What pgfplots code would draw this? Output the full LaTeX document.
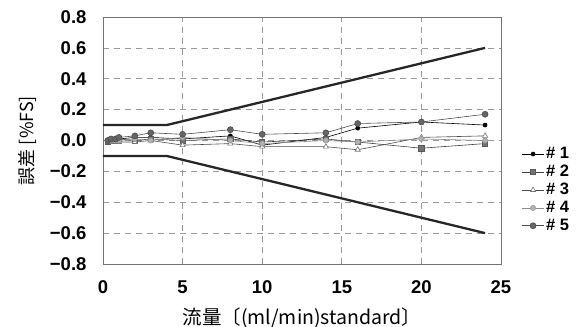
\documentclass[border=0pt]{standalone}
\usepackage{fontspec}
\setmainfont{Liberation Sans}
\newfontfamily\cjk{Noto Sans CJK JP}
\usepackage{pgfplots}
\pgfplotsset{compat=1.18}
\definecolor{axgray}{gray}{0.45}
\definecolor{gridgray}{gray}{0.6}
\begin{document}
\begin{tikzpicture}
\path[use as bounding box] (-103pt,-63pt) rectangle (476pt,264pt);
\begin{axis}[
  at={(0,0)}, anchor=south west,
  scale only axis, width=398pt, height=247pt,
  xmin=0, xmax=25, ymin=-0.8, ymax=0.8,
  xtick={0,5,10,15,20,25},
  ytick={-0.8,-0.6,-0.4,-0.2,0,0.2,0.4,0.6,0.8},
  yticklabels={−0.8,−0.6,−0.4,−0.2,0.0,0.2,0.4,0.6,0.8},
  xticklabels={0,5,10,15,20,25},
  major tick length=0pt,
  axis line style={axgray, line width=0.9pt},
  grid=major,
  major grid style={gridgray, dashed, dash pattern=on 6pt off 5pt, line width=0.6pt},
  tick label style={font=\bfseries\fontsize{18.5}{18.5}\selectfont},
  yticklabel style={xshift=-13pt},
  xticklabel style={yshift=-13pt},
  xlabel={\cjk\fontsize{19.5}{19.5}\selectfont 流量〔(ml/min)standard〕},
  ylabel={\cjk\fontsize{18}{18}\selectfont 誤差 [\%FS]},
  xlabel style={at={(0.5,-0.219)}, anchor=center},
  ylabel style={at={(-0.19,0.5)}, anchor=center},
  legend style={draw=none, fill=none, at={(1.045,0.30)}, anchor=west,
    font=\bfseries\fontsize{16.5}{16.5}\selectfont, row sep=1pt,
    legend cell align=left},
  legend image code/.code={\draw[#1, line width=0.6pt] (0cm,0cm) -- (0.75cm,0cm); \draw[#1,only marks] plot coordinates {(0.375cm,0cm)};},
  clip=false,
]
% series
\addplot[black, line width=0.6pt, mark=*, mark size=2pt] coordinates {
 (0.3,0.0) (0.5,0.0) (0.8,0.01) (1,0.01) (2,0.02) (3,0.02) (5,0.01) (8,0.03) (10,-0.03) (14,0.02) (16,0.08) (20,0.12) (24,0.10)};
\addlegendentry{\# 1}
\addplot[black!75, line width=0.6pt, mark=square*, mark size=2.6pt, mark options={fill=black!55, draw=black!65}] coordinates {
 (0.3,-0.01) (0.5,0.0) (0.8,0.0) (1,0.01) (2,0.0) (3,0.01) (5,0.0) (8,0.01) (10,-0.01) (14,0.01) (16,-0.01) (20,-0.05) (24,-0.02)};
\addlegendentry{\# 2}
\addplot[black!70, line width=0.6pt, mark=triangle*, mark size=3pt, mark options={fill=white, draw=black!55}] coordinates {
 (0.3,-0.01) (0.5,-0.01) (0.8,-0.01) (1,-0.01) (2,-0.01) (3,0.0) (5,-0.03) (8,-0.02) (10,-0.04) (14,-0.04) (16,-0.06) (20,0.02) (24,0.03)};
\addlegendentry{\# 3}
\addplot[black!45, line width=0.6pt, mark=*, mark size=2.6pt, mark options={fill=black!30, draw=black!40}] coordinates {
 (0.3,0.0) (0.5,0.0) (0.8,0.0) (1,0.0) (2,0.01) (3,0.0) (5,0.02) (8,0.0) (10,-0.02) (14,0.0) (16,-0.01) (20,0.01) (24,0.0)};
\addlegendentry{\# 4}
\addplot[black!70, line width=0.6pt, mark=*, mark size=3pt, mark options={fill=black!60, draw=black!70}] coordinates {
 (0.3,0.0) (0.5,0.01) (0.8,0.01) (1,0.02) (2,0.03) (3,0.05) (5,0.04) (8,0.07) (10,0.04) (14,0.05) (16,0.11) (20,0.12) (24,0.17)};
\addlegendentry{\# 5}
% limit lines
\addplot[black!85, line width=2.3pt, forget plot] coordinates {(0,0.1) (4,0.1) (24,0.6)};
\addplot[black!85, line width=2.3pt, forget plot] coordinates {(0,-0.1) (4,-0.1) (24,-0.6)};
\end{axis}
\end{tikzpicture}
\end{document}
